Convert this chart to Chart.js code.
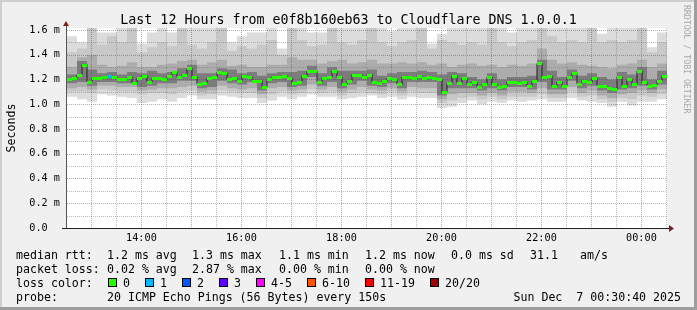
<!DOCTYPE html>
<html>
<head>
<meta charset="utf-8">
<title>Last 12 Hours - Cloudflare DNS 1.0.0.1</title>
<script src="https://cdn.jsdelivr.net/npm/chart.js@4.4.1/dist/chart.umd.min.js"></script>
<style>
  html, body { margin: 0; padding: 0; background: #f0f0f0; }
  #wrap { width: 697px; height: 310px; }
</style>
</head>
<body>
<div id="wrap"><canvas id="smoke" width="697" height="310"></canvas></div>
<script>
/* =========================================================
   SMOKEPING STYLE LATENCY GRAPH (Chart.js)
========================================================= */

const TITLE = 'Last 12 Hours from e0f8b160eb63 to Cloudflare DNS 1.0.0.1';

// x axis is minutes after 12:30:40
const SPAN_MIN = 720;
const MEDIAN_STEP = 6;
const SMOKE_STEP = 12;

const X_TICKS = [89.33, 209.33, 329.33, 449.33, 569.33, 689.33];
const X_TICK_LABELS = ['14:00', '16:00', '18:00', '20:00', '22:00', '00:00'];
const HOUR_MARKS = [29.33, 89.33, 149.33, 209.33, 269.33, 329.33, 389.33, 449.33, 509.33, 569.33, 629.33, 689.33];
const HALF_HOUR_MARKS = [59.33, 119.33, 179.33, 239.33, 299.33, 359.33, 419.33, 479.33, 539.33, 599.33, 659.33, 719.33];

const Y_TICKS = [0, 0.2, 0.4, 0.6, 0.8, 1.0, 1.2, 1.4, 1.6];
const Y_TICK_LABELS = ['0.0', '0.2 m', '0.4 m', '0.6 m', '0.8 m', '1.0 m', '1.2 m', '1.4 m', '1.6 m'];
const Y_MINOR = [0.1, 0.3, 0.5, 0.7, 0.9, 1.1, 1.3, 1.5];

// median rtt (ms), one value per 6 minutes
const medianRtt = [
  1.20, 1.21, 1.24, 1.32, 1.18, 1.21, 1.21, 1.22, 1.23, 1.22,
  1.20, 1.20, 1.22, 1.17, 1.21, 1.23, 1.18, 1.21, 1.21, 1.20,
  1.23, 1.26, 1.22, 1.24, 1.29, 1.22, 1.16, 1.17, 1.21, 1.22,
  1.26, 1.25, 1.20, 1.21, 1.19, 1.23, 1.22, 1.19, 1.19, 1.14,
  1.20, 1.22, 1.22, 1.23, 1.21, 1.17, 1.18, 1.23, 1.27, 1.27,
  1.18, 1.21, 1.22, 1.27, 1.22, 1.16, 1.19, 1.24, 1.24, 1.22,
  1.24, 1.18, 1.17, 1.19, 1.21, 1.20, 1.16, 1.22, 1.22, 1.21,
  1.23, 1.21, 1.22, 1.21, 1.20, 1.10, 1.17, 1.23, 1.17, 1.21,
  1.16, 1.18, 1.14, 1.16, 1.22, 1.16, 1.14, 1.15, 1.18, 1.18,
  1.17, 1.18, 1.15, 1.19, 1.33, 1.22, 1.23, 1.15, 1.18, 1.15,
  1.22, 1.25, 1.165, 1.19, 1.18, 1.21, 1.15, 1.145, 1.13, 1.12,
  1.22, 1.15, 1.20, 1.16, 1.27, 1.18, 1.15, 1.155, 1.19, 1.23
];
// lost pings per median step (index into LOSS_COLORS)
const medianLoss = [
  0, 0, 0, 0, 0, 0, 0, 0, 1, 0,
  0, 0, 0, 0, 0, 0, 0, 0, 0, 0,
  0, 0, 0, 0, 0, 0, 0, 0, 0, 0,
  0, 0, 0, 0, 0, 0, 0, 0, 0, 0,
  0, 0, 0, 0, 0, 0, 0, 0, 0, 0,
  0, 0, 0, 0, 0, 0, 0, 0, 0, 0,
  0, 0, 0, 0, 0, 0, 0, 0, 0, 0,
  0, 0, 0, 0, 0, 0, 0, 0, 0, 0,
  0, 0, 0, 0, 0, 0, 0, 0, 0, 0,
  0, 0, 0, 0, 0, 0, 0, 0, 0, 0,
  0, 0, 0, 0, 0, 0, 0, 0, 0, 0,
  0, 0, 0, 0, 0, 0, 0, 0, 0, 0
];

// smoke (spread of the 20 pings), one value per 12 minutes
const smokeMax = [
  1.55, 1.50, 1.62, 1.58, 1.58, 1.62, 1.62, 1.49, 1.58, 1.62,
  1.58, 1.62, 1.62, 1.62, 1.62, 1.62, 1.50, 1.55, 1.58, 1.58,
  1.62, 1.45, 1.62, 1.62, 1.58, 1.58, 1.62, 1.62, 1.62, 1.62,
  1.62, 1.62, 1.59, 1.62, 1.62, 1.62, 1.49, 1.57, 1.62, 1.62,
  1.62, 1.62, 1.62, 1.62, 1.58, 1.62, 1.62, 1.62, 1.62, 1.62,
  1.62, 1.62, 1.62, 1.57, 1.62, 1.62, 1.62, 1.62, 1.46, 1.58
];
const smokeHi2 = [
  1.42, 1.45, 1.62, 1.48, 1.55, 1.50, 1.62, 1.42, 1.46, 1.50,
  1.47, 1.62, 1.48, 1.45, 1.50, 1.62, 1.43, 1.47, 1.45, 1.48,
  1.52, 1.40, 1.62, 1.52, 1.47, 1.48, 1.62, 1.50, 1.48, 1.52,
  1.62, 1.50, 1.47, 1.50, 1.52, 1.62, 1.45, 1.52, 1.50, 1.48,
  1.50, 1.48, 1.62, 1.50, 1.47, 1.50, 1.52, 1.62, 1.55, 1.50,
  1.52, 1.50, 1.62, 1.50, 1.52, 1.50, 1.52, 1.62, 1.42, 1.50
];
const smokeHi3 = [
  1.30, 1.38, 1.40, 1.32, 1.30, 1.31, 1.34, 1.30, 1.30, 1.32,
  1.33, 1.35, 1.36, 1.32, 1.34, 1.36, 1.31, 1.32, 1.30, 1.30,
  1.32, 1.32, 1.38, 1.36, 1.36, 1.33, 1.35, 1.36, 1.33, 1.34,
  1.36, 1.33, 1.33, 1.34, 1.33, 1.34, 1.32, 1.33, 1.30, 1.32,
  1.33, 1.31, 1.32, 1.30, 1.32, 1.31, 1.33, 1.45, 1.36, 1.33,
  1.34, 1.32, 1.31, 1.30, 1.29, 1.32, 1.33, 1.36, 1.30, 1.33
];
const smokeHi4 = [
  1.24, 1.35, 1.28, 1.25, 1.26, 1.24, 1.26, 1.25, 1.27, 1.25,
  1.26, 1.29, 1.32, 1.25, 1.25, 1.29, 1.28, 1.25, 1.26, 1.23,
  1.25, 1.26, 1.26, 1.27, 1.31, 1.25, 1.30, 1.27, 1.27, 1.27,
  1.28, 1.23, 1.25, 1.26, 1.26, 1.27, 1.26, 1.24, 1.26, 1.25,
  1.22, 1.20, 1.25, 1.20, 1.22, 1.22, 1.23, 1.36, 1.27, 1.22,
  1.28, 1.23, 1.25, 1.22, 1.20, 1.26, 1.24, 1.30, 1.20, 1.27
];
const smokeLo4 = [
  1.17, 1.18, 1.15, 1.18, 1.18, 1.17, 1.17, 1.14, 1.15, 1.17,
  1.17, 1.19, 1.19, 1.13, 1.14, 1.19, 1.17, 1.16, 1.18, 1.11,
  1.17, 1.18, 1.14, 1.15, 1.22, 1.15, 1.18, 1.13, 1.16, 1.19,
  1.15, 1.14, 1.17, 1.13, 1.18, 1.18, 1.18, 1.07, 1.13, 1.13,
  1.13, 1.11, 1.13, 1.11, 1.14, 1.14, 1.12, 1.18, 1.12, 1.12,
  1.19, 1.13, 1.15, 1.11, 1.09, 1.12, 1.13, 1.15, 1.12, 1.16
];
const smokeLo3 = [
  1.13, 1.14, 1.12, 1.15, 1.15, 1.14, 1.14, 1.11, 1.12, 1.13,
  1.13, 1.14, 1.15, 1.10, 1.11, 1.15, 1.13, 1.12, 1.13, 1.08,
  1.13, 1.14, 1.11, 1.12, 1.16, 1.12, 1.14, 1.10, 1.12, 1.14,
  1.12, 1.11, 1.13, 1.10, 1.14, 1.13, 1.13, 1.04, 1.08, 1.09,
  1.09, 1.07, 1.09, 1.07, 1.10, 1.10, 1.09, 1.13, 1.08, 1.08,
  1.14, 1.09, 1.11, 1.07, 1.05, 1.08, 1.09, 1.11, 1.09, 1.12
];
const smokeLo2 = [
  1.10, 1.10, 1.09, 1.12, 1.11, 1.10, 1.10, 1.08, 1.09, 1.09,
  1.08, 1.10, 1.11, 1.07, 1.08, 1.11, 1.10, 1.09, 1.09, 1.05,
  1.08, 1.10, 1.08, 1.09, 1.12, 1.09, 1.10, 1.07, 1.09, 1.10,
  1.09, 1.08, 1.10, 1.07, 1.10, 1.09, 1.09, 1.01, 1.03, 1.05,
  1.06, 1.04, 1.06, 1.04, 1.06, 1.06, 1.06, 1.08, 1.05, 1.05,
  1.10, 1.06, 1.07, 1.04, 1.02, 1.05, 1.04, 1.07, 1.06, 1.08
];
const smokeMin = [
  1.06, 1.04, 1.02, 1.08, 1.07, 1.06, 1.05, 1.01, 1.02, 1.04,
  1.02, 1.05, 1.07, 1.04, 1.04, 1.07, 1.06, 1.05, 1.05, 1.01,
  1.03, 1.06, 1.04, 1.06, 1.08, 1.06, 1.06, 1.04, 1.05, 1.06,
  1.07, 1.05, 1.06, 1.04, 1.06, 1.05, 1.05, 0.97, 0.98, 1.01,
  1.03, 1.00, 1.02, 1.01, 1.03, 1.02, 1.03, 1.04, 1.02, 1.02,
  1.05, 1.03, 1.02, 1.01, 0.98, 1.02, 0.99, 1.02, 1.02, 1.04
];

// legend texts
const RTT_STATS = ['median rtt:', '1.2 ms avg', '1.3 ms max', '1.1 ms min', '1.2 ms now', '0.0 ms sd', '31.1', 'am/s'];
const LOSS_STATS = ['packet loss:', '0.02 % avg', '2.87 % max', '0.00 % min', '0.00 % now'];
const LOSS_LEVELS = ['0', '1', '2', '3', '4-5', '6-10', '11-19', '20/20'];
const LOSS_COLORS = ['#26ff00', '#00b8ff', '#0059ff', '#5e00ff', '#ff00ff', '#ff5500', '#ff0000', '#a10000'];
const PROBE = '20 ICMP Echo Pings (56 Bytes) every 150s';
const STAMP = 'Sun Dec  7 00:30:40 2025';
const WATERMARK = 'RRDTOOL / TOBI OETIKER';

const W = 697, H = 310;
const MONO = '"DejaVu Sans Mono", monospace';

// step values start at each interval, one closing point at the end
function stepPoints(values, step) {
    const pts = values.map((v, i) => ({ x: i * step, y: v }));
    pts.push({ x: values.length * step, y: values[values.length - 1] });
    return pts;
}

function buildDatasets() {
    const sets = [{
        label: 'median',
        data: stepPoints(medianRtt, MEDIAN_STEP),
        borderColor: '#202020',
        borderWidth: 1,
        stepped: true,
        pointRadius: 0,
        fill: false
    }];
    // inner bands first: datasets are painted last index first
    const bands = [
        { lo: smokeLo4, hi: smokeHi4, color: '#7c7c7c' },
        { lo: smokeLo3, hi: smokeHi3, color: '#acacac' },
        { lo: smokeLo2, hi: smokeHi2, color: '#c8c8c8' },
        { lo: smokeMin, hi: smokeMax, color: '#dcdcdc' }
    ];
    bands.forEach(b => {
        const loIdx = sets.length;
        sets.push({ data: stepPoints(b.lo, SMOKE_STEP), borderWidth: 0, borderColor: 'transparent', pointRadius: 0, stepped: true, fill: false });
        sets.push({ data: stepPoints(b.hi, SMOKE_STEP), borderWidth: 0, borderColor: 'transparent', pointRadius: 0, stepped: true, fill: loIdx, backgroundColor: b.color });
    });
    return sets;
}

// dotted grid, one pixel on / one pixel off
function drawGrid(chart) {
    const { ctx, chartArea: a, scales: { x, y } } = chart;
    const left = Math.round(a.left), right = Math.round(a.right);
    const top = Math.round(a.top), bottom = Math.round(a.bottom);
    ctx.save();
    const hLine = (v, color) => {
        const py = Math.round(y.getPixelForValue(v));
        ctx.fillStyle = color;
        for (let px = left; px < right; px += 2) ctx.fillRect(px, py, 1, 1);
    };
    const vLine = (v, color) => {
        const px = Math.round(x.getPixelForValue(v));
        ctx.fillStyle = color;
        for (let py = top; py < bottom; py += 2) ctx.fillRect(px, py, 1, 1);
    };
    Y_MINOR.forEach(v => hLine(v, 'rgba(110,110,110,0.45)'));
    HALF_HOUR_MARKS.forEach(v => vLine(v, 'rgba(110,110,110,0.45)'));
    Y_TICKS.slice(1).forEach(v => hLine(v, 'rgba(255,0,0,0.45)'));
    HOUR_MARKS.forEach(v => vLine(v, 'rgba(255,0,0,0.45)'));
    ctx.restore();
}

function drawLossMarks(chart) {
    const { ctx, scales: { x, y } } = chart;
    ctx.save();
    medianRtt.forEach((v, i) => {
        const x0 = Math.round(x.getPixelForValue(i * MEDIAN_STEP));
        const x1 = Math.round(x.getPixelForValue((i + 1) * MEDIAN_STEP));
        const yc = Math.round(y.getPixelForValue(v));
        ctx.fillStyle = LOSS_COLORS[medianLoss[i]];
        ctx.fillRect(x0, yc - 1, x1 - x0, 3);
    });
    ctx.restore();
}

function drawAxes(chart) {
    const { ctx, chartArea: a } = chart;
    ctx.save();
    ctx.fillStyle = '#1f1f1f';
    ctx.fillRect(62, a.bottom, a.right + 2 - 62, 1);     // x axis
    ctx.fillStyle = '#555';
    ctx.fillRect(a.left - 1, a.top - 2, 1, a.bottom - a.top + 2); // y axis
    ctx.fillStyle = '#7f1f1f';
    ctx.beginPath();
    ctx.moveTo(a.left - 4, a.top - 2); ctx.lineTo(a.left + 2, a.top - 2); ctx.lineTo(a.left - 1, a.top - 7);
    ctx.closePath(); ctx.fill();
    ctx.beginPath();
    ctx.moveTo(a.right + 2, a.bottom - 3); ctx.lineTo(a.right + 2, a.bottom + 4); ctx.lineTo(a.right + 7, a.bottom + 0.5);
    ctx.closePath(); ctx.fill();
    ctx.restore();
}

const rrdPlugin = {
    id: 'rrdLook',
    beforeDraw(chart) {
        const { ctx, chartArea: a } = chart;
        ctx.save();
        ctx.fillStyle = '#f0f0f0';
        ctx.fillRect(0, 0, W, H);
        ctx.fillStyle = '#cfcfcf';
        ctx.fillRect(0, 0, W, 2);
        ctx.fillRect(0, 0, 2, H);
        ctx.fillStyle = '#9e9e9e';
        ctx.fillRect(W - 3, 0, 3, H);
        ctx.fillRect(0, H - 3, W, 3);
        ctx.fillStyle = '#ffffff';
        ctx.fillRect(a.left, a.top, a.right - a.left, a.bottom - a.top);
        ctx.restore();
    },
    afterDatasetsDraw(chart) {
        drawGrid(chart);
        drawLossMarks(chart);
        drawAxes(chart);
    },
    afterDraw(chart) {
        const ctx = chart.ctx;
        ctx.save();
        ctx.fillStyle = '#000';
        ctx.textBaseline = 'alphabetic';

        ctx.font = '13.3px ' + MONO;
        ctx.textAlign = 'center';
        ctx.fillText(TITLE, W / 2, 24);

        ctx.font = '11.6px ' + MONO;
        ctx.save();
        ctx.translate(15, 128);
        ctx.rotate(-Math.PI / 2);
        ctx.fillText('Seconds', 0, 0);
        ctx.restore();

        ctx.textAlign = 'left';
        const rttX = [16, 107, 192, 279, 365, 451, 530, 580];
        RTT_STATS.forEach((t, i) => ctx.fillText(t, rttX[i], 258.5));
        const lossX = [16, 107, 192, 279, 365];
        LOSS_STATS.forEach((t, i) => ctx.fillText(t, lossX[i], 272.5));

        ctx.fillText('loss color:', 16, 286.5);
        const boxX = [108, 145, 182, 219, 256, 307, 365, 430];
        LOSS_LEVELS.forEach((t, i) => {
            ctx.fillStyle = LOSS_COLORS[i];
            ctx.fillRect(boxX[i], 278, 9, 9);
            ctx.strokeStyle = '#000';
            ctx.lineWidth = 1;
            ctx.strokeRect(boxX[i] + 0.5, 278.5, 8, 8);
            ctx.fillStyle = '#000';
            ctx.fillText(t, boxX[i] + 15, 286.5);
        });

        ctx.fillText('probe:', 16, 300.5);
        ctx.fillText(PROBE, 107, 300.5);
        ctx.textAlign = 'right';
        ctx.fillText(STAMP, 681, 300.5);

        ctx.fillStyle = '#a8a8a8';
        ctx.font = '8.2px ' + MONO;
        ctx.textAlign = 'left';
        ctx.translate(684, 5);
        ctx.rotate(Math.PI / 2);
        ctx.fillText(WATERMARK, 0, 0);
        ctx.restore();
    }
};

Chart.defaults.font.family = MONO;
Chart.defaults.color = '#000';

new Chart(document.getElementById('smoke').getContext('2d'), {
    type: 'line',
    data: { datasets: buildDatasets() },
    options: {
        responsive: false,
        animation: false,
        events: [],
        layout: { padding: { top: 28, right: 30, bottom: 0, left: 0 } },
        plugins: { legend: { display: false }, tooltip: { enabled: false }, title: { display: false } },
        scales: {
            x: {
                type: 'linear',
                min: 0,
                max: SPAN_MIN,
                afterBuildTicks: s => { s.ticks = X_TICKS.map(v => ({ value: v })); },
                afterFit: s => { s.height = H - 228; },
                grid: { display: false, drawTicks: false, tickLength: 0 },
                border: { display: false },
                ticks: {
                    autoSkip: false, maxRotation: 0, padding: 4,
                    font: { size: 10.2 },
                    callback: (v, i) => X_TICK_LABELS[i]
                }
            },
            y: {
                min: 0,
                max: 1.616,
                afterBuildTicks: s => { s.ticks = Y_TICKS.map(v => ({ value: v })); },
                afterFit: s => { s.width = 67; },
                grid: { display: false, drawTicks: false, tickLength: 0 },
                border: { display: false },
                ticks: {
                    padding: 7,
                    font: { size: 10.2 },
                    callback: (v, i) => Y_TICK_LABELS[i].padEnd(5)
                }
            }
        }
    },
    plugins: [rrdPlugin]
});
</script>
</body>
</html>
